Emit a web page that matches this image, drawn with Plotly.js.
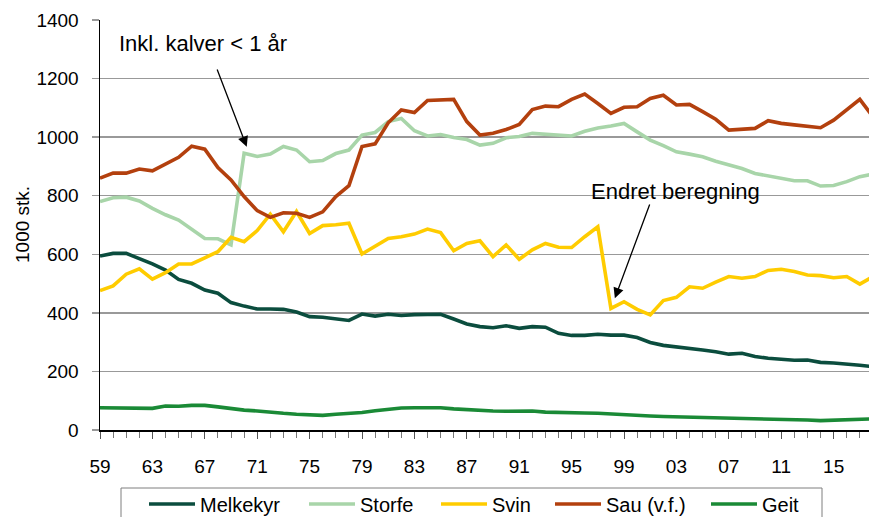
<!DOCTYPE html>
<html>
<head>
<meta charset="utf-8">
<script src="https://cdn.plot.ly/plotly-3.0.1.min.js"></script>
<style>
html,body{margin:0;padding:0;background:#fff;overflow:hidden;}
#chart{width:869px;height:517px;}
</style>
</head>
<body>
<div id="chart"></div>
<script>
const years = [1959,1960,1961,1962,1963,1964,1965,1966,1967,1968,
               1969,1970,1971,1972,1973,1974,1975,1976,1977,1978,
               1979,1980,1981,1982,1983,1984,1985,1986,1987,1988,
               1989,1990,1991,1992,1993,1994,1995,1996,1997,1998,
               1999,2000,2001,2002,2003,2004,2005,2006,2007,2008,
               2009,2010,2011,2012,2013,2014,2015,2016,2017,2018];

const melkekyr = [594,603,603,586,567,546,514,501,478,467,
                  435,423,413,413,412,403,387,385,380,374,
                  396,389,395,391,394,395,395,379,362,353,
                  349,356,347,353,351,330,323,323,327,324,
                  324,316,299,289,284,281,273,267,259,262,
                  251,245,241,238,239,231,229,226,221,216];

const storfe = [780,793,795,782,757,735,717,686,654,653,
                632,945,934,942,968,956,916,920,944,956,
                1007,1016,1053,1064,1022,1004,1009,999,992,973,
                979,998,1002,1013,1009,1007,1004,1020,1031,1038,
                1047,1018,990,971,950,942,933,918,905,893,
                876,867,859,851,851,833,835,848,865,874];

const svin = [476,492,532,550,515,537,567,567,588,609,
              658,643,681,737,677,746,671,698,701,706,
              601,628,654,660,669,686,674,612,637,646,
              592,632,583,615,637,624,623,660,694,415,
              438,412,393,442,453,489,484,505,524,518,
              524,545,549,541,529,527,520,524,498,524];

const sau = [860,877,877,891,885,907,931,969,959,896,
             854,797,749,726,742,740,726,745,797,834,
             968,977,1049,1093,1084,1125,1127,1129,1053,1007,
             1013,1026,1043,1094,1106,1104,1129,1147,1115,1081,
             1102,1104,1132,1143,1110,1112,1087,1061,1024,1028,
             1030,1056,1047,1042,1038,1032,1058,1092,1129,1070];

const geit = [76,75,76,73,74,82,81,84,84,79,
              72,68,65,60,57,54,51,50,54,56,
              60,66,71,75,76,76,76,72,69,66,
              65,64,66,65,61,61,59,58,57,54,
              52,50,48,46,45,45,45,42,40,39,
              39,38,37,35,34,32,33,35,37,38];

const tickYears = [1959,1963,1967,1971,1975,1979,1983,1987,1991,1995,1999,2003,2007,2011,2015];
const tickLabels = ['59','63','67','71','75','79','83','87','91','95','99','03','07','11','15'];

const seriesNames = ['Melkekyr','Storfe','Svin','Sau (v.f.)','Geit'];
const seriesData = [melkekyr, storfe, svin, sau, geit];
const seriesColors = ['#0b4d3e','#a8d5a9','#ffcc00','#b3400e','#1a8a36'];
const legendIds = ['legend','legend2','legend3','legend4','legend5'];
const legendLeft = [144, 304, 436, 550, 706];   // px positions of legend entries

const FONT = 'Liberation Sans, Arial, sans-serif';
const W = 869, H = 517;

const traces = seriesNames.map((name, i) => ({
  type: 'scatter',
  mode: 'lines',
  name: name,
  x: years,
  y: seriesData[i],
  legend: legendIds[i],
  line: {color: seriesColors[i], width: 3.6},
  hoverinfo: 'x+y+name'
}));

const layout = {
  width: W,
  height: H,
  margin: {l: 100, r: 0, t: 20, b: 87},
  paper_bgcolor: '#ffffff',
  plot_bgcolor: '#ffffff',
  font: {family: FONT, color: '#000', size: 19},
  showlegend: true,
  xaxis: {
    type: 'linear',
    range: [1959, 2017.7],
    tickmode: 'array',
    tickvals: tickYears,
    ticktext: tickLabels,
    ticks: 'outside',
    ticklen: 7,
    tickwidth: 1,
    tickcolor: '#555',
    ticklabelstandoff: 12,
    minor: {dtick: 1, ticks: 'outside', ticklen: 6, tickcolor: '#777', tickwidth: 1, showgrid: false},
    showgrid: false,
    zeroline: false,
    showline: true,
    linecolor: '#000',
    linewidth: 1.5,
    tickfont: {family: FONT, size: 19, color: '#000'},
    automargin: false,
    fixedrange: true
  },
  yaxis: {
    range: [0, 1400],
    dtick: 200,
    tick0: 0,
    ticks: 'outside',
    ticklen: 7,
    tickcolor: '#999',
    tickwidth: 1.5,
    ticklabelstandoff: 9,
    showgrid: true,
    gridcolor: '#999999',
    gridwidth: 1.5,
    zeroline: false,
    showline: true,
    linecolor: '#000',
    linewidth: 1.5,
    tickfont: {family: FONT, size: 19, color: '#000'},
    automargin: false,
    fixedrange: true
  },
  shapes: [
    {
      type: 'rect', xref: 'paper', yref: 'paper',
      x0: (121 - 100) / 769, x1: (822 - 100) / 769,
      y0: -(488 - 430) / 410, y1: -(540 - 430) / 410,
      line: {color: '#7f7f7f', width: 1},
      fillcolor: 'rgba(0,0,0,0)'
    }
  ],
  annotations: [
    {
      xref: 'paper', yref: 'paper',
      x: (22 - 100) / 769, y: (430 - 225) / 410,
      text: '1000 stk.',
      textangle: -90,
      showarrow: false,
      font: {family: FONT, size: 19, color: '#000'},
      xanchor: 'center', yanchor: 'middle'
    },
    {
      xref: 'x', yref: 'y',
      x: 1966.9, y: 1321,
      text: 'Inkl. kalver < 1 år',
      showarrow: false,
      font: {family: FONT, size: 22, color: '#000'},
      xanchor: 'center', yanchor: 'middle'
    },
    {
      xref: 'x', yref: 'y',
      x: 1970.2, y: 967,
      axref: 'x', ayref: 'y',
      ax: 1967.9, ay: 1236,
      text: '',
      showarrow: true,
      arrowhead: 2,
      arrowsize: 1.6,
      arrowwidth: 1.3,
      arrowcolor: '#000'
    },
    {
      xref: 'x', yref: 'y',
      x: 2002.9, y: 813,
      text: 'Endret beregning',
      showarrow: false,
      font: {family: FONT, size: 22, color: '#000'},
      xanchor: 'center', yanchor: 'middle'
    },
    {
      xref: 'x', yref: 'y',
      x: 1998.3, y: 450,
      axref: 'x', ayref: 'y',
      ax: 2001.0, ay: 775,
      text: '',
      showarrow: true,
      arrowhead: 2,
      arrowsize: 1.6,
      arrowwidth: 1.3,
      arrowcolor: '#000'
    }
  ]
};

legendIds.forEach((id, i) => {
  layout[id] = {
    orientation: 'h',
    xref: 'container', yref: 'container',
    x: legendLeft[i] / W, xanchor: 'left',
    y: 1 - 504 / H, yanchor: 'middle',
    borderwidth: 0,
    bgcolor: 'rgba(0,0,0,0)',
    itemwidth: 46,
    font: {family: FONT, size: 20, color: '#000'}
  };
});

Plotly.newPlot('chart', traces, layout, {displayModeBar: false, staticPlot: true});
</script>
</body>
</html>
